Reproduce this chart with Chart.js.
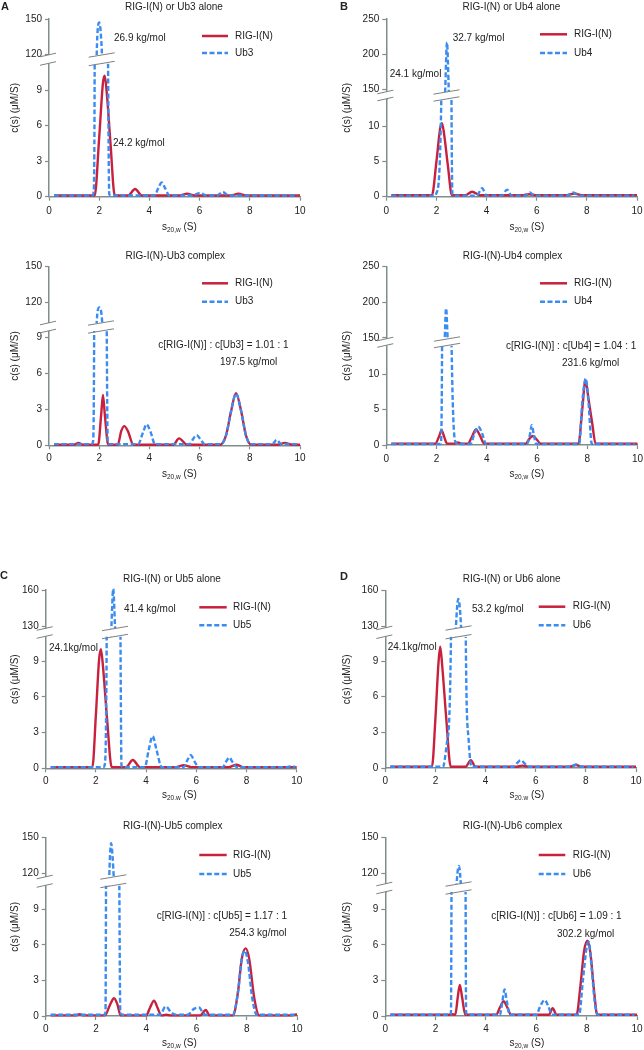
<!DOCTYPE html>
<html><head><meta charset="utf-8">
<script src="https://cdn.jsdelivr.net/npm/chart.js@4.4.1/dist/chart.umd.min.js"></script>
<style>
html,body{margin:0;padding:0;background:#fff;}
#page{position:relative;width:644px;height:1050px;overflow:hidden;background:#fff;}
canvas{position:absolute;}
</style></head><body><div id="page"></div>
<script>
// ---------------- data ----------------
const sTicks = [0, 2, 4, 6, 8, 10];

const A1_rig_s = [0.2, 1.82, 2.0, 2.15, 2.22, 2.3, 2.45, 2.62, 3.15, 3.43, 3.7, 5.2, 5.5, 5.8, 7.25, 7.55, 7.85, 10.0];
const A1_rig_c = [0.1, 0.1, 5.0, 9.6, 10.2, 8.8, 4.5, 0.1, 0.1, 0.65, 0.1, 0.1, 0.25, 0.1, 0.1, 0.25, 0.1, 0.1];
const A1_ub_s = [0.2, 1.72, 1.78, 1.82, 1.9, 2.0, 2.1, 2.2, 2.35, 2.4, 2.5, 4.2, 4.35, 4.49, 4.63, 4.8, 5.7, 6.0, 6.3, 6.7, 6.92, 7.15, 9.9];
const A1_ub_c = [0.1, 0.1, 0.4, 12, 120, 147, 125, 60, 12, 0.2, 0.1, 0.1, 0.7, 1.2, 0.7, 0.1, 0.1, 0.3, 0.1, 0.1, 0.4, 0.1, 0.1];

const A2_rig_s = [0.2, 1.0, 1.17, 1.35, 1.96, 2.08, 2.15, 2.23, 2.36, 2.74, 2.88, 3.0, 3.14, 3.36, 4.95, 5.18, 5.5, 6.82, 7.05, 7.25, 7.45, 7.65, 7.85, 8.05, 9.1, 9.4, 9.7, 10.0];
const A2_rig_c = [0.05, 0.05, 0.2, 0.05, 0.05, 2.6, 4.2, 2.4, 0.05, 0.05, 1.2, 1.6, 1.2, 0.05, 0.05, 0.58, 0.05, 0.05, 0.8, 2.8, 4.35, 2.9, 0.8, 0.05, 0.05, 0.2, 0.05, 0.05];
const A2_ub_s = [0.2, 1.7, 1.76, 1.8, 1.9, 2.0, 2.12, 2.3, 2.34, 2.4, 3.55, 3.75, 3.89, 4.05, 4.22, 5.6, 5.75, 5.88, 6.02, 6.2, 6.85, 7.05, 7.25, 7.45, 7.65, 7.85, 8.05, 8.9, 9.07, 9.25, 9.9];
const A2_ub_c = [0.1, 0.1, 0.4, 10, 103, 115.7, 103, 10, 0.3, 0.1, 0.1, 1.1, 1.75, 1.1, 0.1, 0.1, 0.55, 0.85, 0.55, 0.1, 0.1, 0.8, 2.8, 4.3, 2.9, 0.8, 0.1, 0.1, 0.45, 0.1, 0.1];

const B1_rig_s = [0.2, 1.82, 2.0, 2.15, 2.22, 2.3, 2.45, 2.62, 3.15, 3.42, 3.75, 5.4, 5.7, 6.0, 7.2, 7.5, 7.8, 10.0];
const B1_rig_c = [0.2, 0.2, 5.0, 9.7, 10.4, 9.0, 4.6, 0.2, 0.2, 0.7, 0.2, 0.2, 0.35, 0.2, 0.2, 0.45, 0.2, 0.2];
const B1_ub_s = [0.2, 1.95, 2.0, 2.2, 2.35, 2.42, 2.49, 2.6, 2.64, 2.7, 3.6, 3.82, 4.0, 4.6, 4.82, 5.0, 5.55, 5.72, 5.9, 7.2, 7.45, 7.7, 9.9];
const B1_ub_c = [0.15, 0.15, 0.5, 15, 150, 217, 150, 14, 0.3, 0.15, 0.15, 1.2, 0.15, 0.15, 1.0, 0.15, 0.15, 0.6, 0.15, 0.15, 0.6, 0.15, 0.15];

const B2_rig_s = [0.2, 1.95, 2.1, 2.2, 2.3, 2.42, 2.7, 2.85, 3.0, 3.25, 3.4, 3.57, 3.72, 3.9, 5.55, 5.7, 5.83, 5.98, 6.15, 7.65, 7.8, 7.93, 8.05, 8.2, 8.33, 10.0];
const B2_rig_c = [0.2, 0.2, 1.2, 2.1, 1.2, 0.2, 0.2, 0.35, 0.2, 0.2, 1.1, 2.2, 1.4, 0.2, 0.2, 0.9, 1.27, 0.8, 0.2, 0.2, 5.0, 9.2, 6.5, 3.0, 0.2, 0.2];
const B2_ub_s = [0.2, 2.17, 2.22, 2.32, 2.38, 2.45, 2.6, 2.78, 2.9, 3.35, 3.5, 3.66, 3.82, 3.97, 5.6, 5.72, 5.79, 5.87, 5.97, 7.68, 7.8, 7.94, 8.05, 8.18, 9.9];
const B2_ub_c = [0.15, 0.15, 14, 140, 191.6, 140, 14, 0.3, 0.15, 0.15, 1.5, 2.6, 1.6, 0.15, 0.15, 1.5, 2.8, 1.5, 0.15, 0.15, 6.0, 9.4, 6.0, 0.15, 0.15];

const C1_rig_s = [0.2, 1.86, 2.0, 2.13, 2.2, 2.28, 2.45, 2.63, 3.2, 3.47, 3.75, 5.2, 5.5, 5.8, 7.3, 7.6, 7.85, 10.0];
const C1_rig_c = [0.1, 0.1, 4.5, 9.2, 10.0, 8.6, 4.0, 0.1, 0.1, 0.7, 0.1, 0.1, 0.25, 0.1, 0.1, 0.3, 0.1, 0.1];
const C1_ub_s = [0.2, 2.3, 2.36, 2.43, 2.62, 2.69, 2.76, 2.98, 3.02, 3.1, 3.95, 4.1, 4.26, 4.42, 4.62, 5.5, 5.65, 5.78, 5.92, 6.1, 7.05, 7.2, 7.31, 7.45, 7.6, 9.6, 9.8, 9.95];
const C1_ub_c = [0.1, 0.1, 0.4, 11, 130, 161, 130, 11, 0.2, 0.1, 0.1, 1.5, 2.7, 1.5, 0.1, 0.1, 0.7, 1.1, 0.6, 0.1, 0.1, 0.6, 0.9, 0.5, 0.1, 0.1, 0.18, 0.1];

const C2_rig_s = [0.2, 1.2, 1.35, 1.5, 2.36, 2.55, 2.72, 2.85, 2.98, 4.0, 4.15, 4.31, 4.45, 4.6, 4.8, 5.0, 6.15, 6.37, 6.52, 7.45, 7.65, 7.8, 7.96, 8.1, 8.3, 8.5, 9.8, 10.0];
const C2_rig_c = [0.05, 0.05, 0.15, 0.05, 0.05, 0.9, 1.5, 1.0, 0.05, 0.05, 0.7, 1.3, 0.7, 0.05, 0.1, 0.05, 0.05, 0.5, 0.05, 0.05, 2.0, 4.8, 5.7, 4.8, 1.5, 0.05, 0.05, 0.15];
const C2_ub_s = [0.2, 2.35, 2.38, 2.4, 2.52, 2.6, 2.72, 2.93, 2.97, 3.05, 4.55, 4.77, 5.0, 5.2, 5.65, 5.9, 6.1, 6.25, 6.35, 7.45, 7.65, 7.8, 7.92, 8.05, 8.22, 8.4, 9.9];
const C2_ub_c = [0.1, 0.1, 0.4, 11, 112, 145.3, 112, 11, 0.3, 0.1, 0.1, 0.8, 0.3, 0.1, 0.1, 0.6, 0.72, 0.3, 0.1, 0.1, 2.0, 4.8, 5.5, 4.5, 1.5, 0.1, 0.1];

const D1_rig_s = [0.2, 1.86, 2.0, 2.12, 2.19, 2.27, 2.43, 2.61, 3.2, 3.41, 3.6, 5.2, 5.47, 5.75, 7.35, 7.6, 7.85, 10.0];
const D1_rig_c = [0.1, 0.1, 4.2, 8.8, 10.2, 8.6, 4.2, 0.1, 0.1, 0.65, 0.1, 0.1, 0.2, 0.1, 0.1, 0.25, 0.1, 0.1];
const D1_ub_s = [0.2, 2.3, 2.45, 2.62, 2.82, 2.91, 3.02, 3.21, 3.32, 3.42, 3.5, 5.1, 5.25, 5.4, 5.55, 5.7, 7.4, 7.62, 7.85, 9.9];
const D1_ub_c = [0.1, 0.1, 2.0, 11, 130, 153, 130, 11, 2.5, 0.2, 0.1, 0.1, 0.4, 0.65, 0.4, 0.1, 0.1, 0.3, 0.1, 0.1];

const D2_rig_s = [0.2, 2.55, 2.65, 2.78, 2.88, 2.96, 3.05, 3.18, 4.4, 4.55, 4.7, 4.85, 5.0, 6.5, 6.65, 6.8, 7.6, 7.75, 7.9, 8.03, 8.15, 8.3, 8.42, 10.0];
const D2_rig_c = [0.1, 0.1, 0.15, 0.1, 1.6, 2.62, 1.6, 0.1, 0.1, 0.7, 1.25, 0.7, 0.1, 0.1, 0.65, 0.1, 0.1, 2.5, 5.5, 6.35, 5.3, 2.0, 0.1, 0.1];
const D2_ub_s = [0.2, 2.58, 2.61, 2.63, 2.8, 2.92, 3.03, 3.19, 3.21, 3.3, 4.55, 4.65, 4.74, 4.83, 4.95, 6.0, 6.15, 6.33, 6.48, 6.62, 7.7, 7.85, 8.0, 8.08, 8.2, 8.32, 8.45, 9.9];
const D2_ub_c = [0.1, 0.1, 0.4, 10.4, 100, 126.2, 100, 10.4, 0.3, 0.1, 0.1, 1.2, 2.25, 1.2, 0.1, 0.1, 0.8, 1.35, 0.8, 0.1, 0.1, 3.0, 5.8, 6.27, 4.0, 1.2, 0.1, 0.1];

const A_topTicks = [120, 150], A_botTicks = [0, 3, 6, 9];
const B_topTicks = [150, 200, 250], B_botTicks = [0, 5, 10];
const C1_topTicks = [130, 160], C1_botTicks = [0, 3, 6, 9];
const D1_topTicks = [130, 160], D1_botTicks = [0, 3, 6, 9];
const C2_topTicks = [120, 150], C2_botTicks = [0, 3, 6, 9];
const D2_topTicks = [120, 150], D2_botTicks = [0, 3, 6, 9];

// ---------------- styling / layout ----------------
const RED = '#c8213d', BLUE = '#3a8cf0', AXIS = '#7e8d8d', TXT = '#222222';
const FONT = '"Liberation Sans", Arial, Helvetica, sans-serif';
const DASH = [5, 2.5];

const panels = [
 {key:'A1', box:[0,0,322,240], letter:'A', letterXY:[1,7], title:'RIG-I(N) or Ub3 alone', titleXY:[174,7.3],
  axisX:49, x10:300, top:19, topMax:150, refV:120, refY:54.5, bandTop:55, bandBot:63.5, bottom:196.7, lowV:9, lowY:90,
  topTicks:A_topTicks, botTicks:A_botTicks, breakS:2.1, xLabelY:211.7, xTitleXY:[162,227.5], yTitleX:15,
  legend:[202,228,235,36,53], names:['RIG-I(N)','Ub3'],
  notes:[['26.9 kg/mol',114,38],['24.2 kg/mol',113,143]], rig:[A1_rig_s,A1_rig_c], ub:[A1_ub_s,A1_ub_c]},
 {key:'A2', box:[0,240,322,240], title:'RIG-I(N)-Ub3 complex', titleXY:[175.3,256],
  axisX:49, x10:300, top:266.7, topMax:150, refV:120, refY:302.3, bandTop:323, bandBot:331, bottom:445.3, lowV:9, lowY:337.3,
  topTicks:A_topTicks, botTicks:A_botTicks, breakS:2.07, xLabelY:458.3, xTitleXY:[162,474.3], yTitleX:15,
  legend:[202,228,235,283.3,301.7], names:['RIG-I(N)','Ub3'],
  notes:[['c[RIG-I(N)] : c[Ub3] = 1.01 : 1',158.3,345],['197.5 kg/mol',220,362.7]], rig:[A2_rig_s,A2_rig_c], ub:[A2_ub_s,A2_ub_c]},
 {key:'B1', box:[322,0,322,240], letter:'B', letterXY:[340,7], title:'RIG-I(N) or Ub4 alone', titleXY:[511.5,7.3],
  axisX:386.3, x10:637, top:19, topMax:250, refV:200, refY:54.3, bandTop:92, bandBot:99, bottom:196.7, lowV:10, lowY:126,
  topTicks:B_topTicks, botTicks:B_botTicks, breakS:2.4, xLabelY:211.7, xTitleXY:[509.5,227], yTitleX:347,
  legend:[540,567,574,34.3,53], names:['RIG-I(N)','Ub4'],
  notes:[['32.7 kg/mol',452.7,38],['24.1 kg/mol',389.7,74]], rig:[B1_rig_s,B1_rig_c], ub:[B1_ub_s,B1_ub_c]},
 {key:'B2', box:[322,240,322,240], title:'RIG-I(N)-Ub4 complex', titleXY:[512.5,256],
  axisX:386.3, x10:637.5, top:266.7, topMax:250, refV:200, refY:302.3, bandTop:339, bandBot:345.5, bottom:445, lowV:10, lowY:374.3,
  topTicks:B_topTicks, botTicks:B_botTicks, breakS:2.42, xLabelY:459, xTitleXY:[509.5,474.3], yTitleX:347,
  legend:[540,567,574,283.3,301.7], names:['RIG-I(N)','Ub4'],
  notes:[['c[RIG-I(N)] : c[Ub4] = 1.04 : 1',506,346.7],['231.6 kg/mol',562,363.3]], rig:[B2_rig_s,B2_rig_c], ub:[B2_ub_s,B2_ub_c]},
 {key:'C1', box:[0,540,322,260], letter:'C', letterXY:[0,576], title:'RIG-I(N) or Ub5 alone', titleXY:[172,579.3],
  axisX:45.7, x10:296.7, top:590, topMax:160, refV:130, refY:626, bandTop:628.5, bandBot:636.5, bottom:768.3, lowV:9, lowY:661,
  topTicks:C1_topTicks, botTicks:C1_botTicks, breakS:2.76, xLabelY:781.7, xTitleXY:[162,795], yTitleX:15,
  legend:[199.3,226.7,233,607.3,625.3], names:['RIG-I(N)','Ub5'],
  notes:[['41.4 kg/mol',124,609.3],['24.1kg/mol',49,648.3]], rig:[C1_rig_s,C1_rig_c], ub:[C1_ub_s,C1_ub_c]},
 {key:'C2', box:[0,800,322,250], title:'RIG-I(N)-Ub5 complex', titleXY:[172.8,826.7],
  axisX:45.7, x10:297, top:837.7, topMax:150, refV:120, refY:873.3, bandTop:877, bandBot:885.5, bottom:1016, lowV:9, lowY:909.3,
  topTicks:C2_topTicks, botTicks:C2_botTicks, breakS:2.69, xLabelY:1029.3, xTitleXY:[162,1043.3], yTitleX:15,
  legend:[199.3,226.7,233,855,874], names:['RIG-I(N)','Ub5'],
  notes:[['c[RIG-I(N)] : c[Ub5] = 1.17 : 1',156.7,916],['254.3 kg/mol',229.3,933.3]], rig:[C2_rig_s,C2_rig_c], ub:[C2_ub_s,C2_ub_c]},
 {key:'D1', box:[322,540,322,260], letter:'D', letterXY:[340,576.7], title:'RIG-I(N) or Ub6 alone', titleXY:[511.7,579.3],
  axisX:385.3, x10:636, top:590.7, topMax:160, refV:130, refY:626, bandTop:628, bandBot:636.7, bottom:768, lowV:9, lowY:661,
  topTicks:D1_topTicks, botTicks:D1_botTicks, breakS:2.92, xLabelY:781.7, xTitleXY:[509.5,795], yTitleX:347,
  legend:[538.7,565.3,572.7,606.7,625.3], names:['RIG-I(N)','Ub6'],
  notes:[['53.2 kg/mol',472,609.3],['24.1kg/mol',387.7,647.3]], rig:[D1_rig_s,D1_rig_c], ub:[D1_ub_s,D1_ub_c]},
 {key:'D2', box:[322,800,322,250], title:'RIG-I(N)-Ub6 complex', titleXY:[512.5,826.7],
  axisX:385.3, x10:637, top:837.7, topMax:150, refV:120, refY:873.3, bandTop:884, bandBot:892, bottom:1016, lowV:9, lowY:909.3,
  topTicks:D2_topTicks, botTicks:D2_botTicks, breakS:2.91, xLabelY:1029.3, xTitleXY:[509.5,1043.3], yTitleX:347,
  legend:[538.7,565.3,572.7,855,874], names:['RIG-I(N)','Ub6'],
  notes:[['c[RIG-I(N)] : c[Ub6] = 1.09 : 1',491.3,916.7],['302.2 kg/mol',557,934]], rig:[D2_rig_s,D2_rig_c], ub:[D2_ub_s,D2_ub_c]}
];

Chart.defaults.font.family = FONT;
Chart.defaults.font.size = 10;
Chart.defaults.color = TXT;

function toPts(xs, ys) { return xs.map((x, i) => ({x: x, y: ys[i]})); }

function decoPlugin(p) {
  const ox = p.box[0], oy = p.box[1];
  function seg(ctx, x1, y1, x2, y2) { ctx.beginPath(); ctx.moveTo(x1, y1); ctx.lineTo(x2, y2); ctx.stroke(); }
  return {
    id: 'deco' + p.key,
    beforeDatasetDraw(chart, args) {
      const ys = args.meta.yScale, xs = args.meta.xScale, ctx = chart.ctx;
      const isTop = ys.id === 'yTop';
      const t = isTop ? ys.top - 6 : ys.top;
      const b = isTop ? ys.bottom : ys.bottom + 6;
      ctx.save();
      ctx.beginPath();
      ctx.rect(xs.left - 4, t, xs.right - xs.left + 8, b - t);
      ctx.clip();
    },
    afterDatasetDraw(chart) { chart.ctx.restore(); },
    afterDraw(chart) {
      const ctx = chart.ctx, xs = chart.scales.x;
      const ax = p.axisX - ox;
      ctx.save();
      // axis break gap
      ctx.fillStyle = '#ffffff';
      ctx.fillRect(ax - 2, p.bandTop - oy, p.x10 - p.axisX + 6, p.bandBot - p.bandTop);
      ctx.strokeStyle = '#808080'; ctx.lineWidth = 1;
      const xp = xs.getPixelForValue(p.breakS);
      [p.bandTop - oy, p.bandBot - oy].forEach(y => {
        seg(ctx, ax - 9, y + 1.8, ax + 7, y - 1.8);
        seg(ctx, xp - 13, y + 2.2, xp + 13, y - 2.2);
      });
      // texts
      ctx.fillStyle = TXT; ctx.textBaseline = 'middle';
      ctx.font = '10px ' + FONT; ctx.textAlign = 'center';
      ctx.fillText(p.title, p.titleXY[0] - ox, p.titleXY[1] - oy);
      if (p.letter) {
        ctx.font = 'bold 11px ' + FONT; ctx.textAlign = 'left';
        ctx.fillText(p.letter, p.letterXY[0] - ox, p.letterXY[1] - oy);
      }
      ctx.font = '10px ' + FONT; ctx.textAlign = 'left';
      p.notes.forEach(n => ctx.fillText(n[0], n[1] - ox, n[2] - oy));
      // legend
      const L = p.legend;
      ctx.lineWidth = 2.5; ctx.lineCap = 'butt';
      ctx.strokeStyle = RED; ctx.setLineDash([]);
      seg(ctx, L[0] - ox, L[3] - oy, L[1] - ox, L[3] - oy);
      ctx.strokeStyle = BLUE; ctx.setLineDash(DASH);
      seg(ctx, L[0] - ox, L[4] - oy, L[1] - ox, L[4] - oy);
      ctx.setLineDash([]);
      ctx.fillText(p.names[0], L[2] - ox, L[3] - oy);
      ctx.fillText(p.names[1], L[2] - ox, L[4] - oy);
      // x title with subscript
      let tx = p.xTitleXY[0] - ox; const ty = p.xTitleXY[1] - oy;
      ctx.font = '10px ' + FONT; ctx.fillText('s', tx, ty); tx += ctx.measureText('s').width;
      ctx.font = '6.5px ' + FONT; ctx.fillText('20,w', tx, ty + 3); tx += ctx.measureText('20,w').width;
      ctx.font = '10px ' + FONT; ctx.fillText(' (S)', tx, ty);
      // y title
      ctx.translate(p.yTitleX - ox, (p.top + p.bottom) / 2 - oy);
      ctx.rotate(-Math.PI / 2);
      ctx.textAlign = 'center';
      ctx.fillText('c(s) (\u03bcM/S)', 0, 0);
      ctx.restore();
    }
  };
}

const page = document.getElementById('page');
panels.forEach(p => {
  const cv = document.createElement('canvas');
  cv.width = p.box[2]; cv.height = p.box[3];
  cv.style.left = p.box[0] + 'px'; cv.style.top = p.box[1] + 'px';
  cv.style.width = p.box[2] + 'px'; cv.style.height = p.box[3] + 'px';
  page.appendChild(cv);

  const pxTop = (p.refY - p.top) / (p.topMax - p.refV);
  const topMin = p.topMax - (p.bandBot - p.top) / pxTop;
  const pxBot = (p.bottom - p.lowY) / p.lowV;
  const botMax = (p.bottom - p.bandBot) / pxBot;
  const wTop = p.bandBot - p.top, wBot = p.bottom - p.bandBot;
  const yW = p.axisX - p.box[0];
  const xH = p.box[1] + p.box[3] - p.bottom;
  const xPad = p.xLabelY - p.bottom - 4 - 6;

  const mk = (label, arr, color, dash, axis) => ({
    label: label, data: toPts(arr[0], arr[1]), yAxisID: axis, xAxisID: 'x',
    borderColor: color, backgroundColor: color, borderWidth: 2.4, borderDash: dash,
    pointRadius: 0, pointHoverRadius: 0, fill: false, clip: false,
    cubicInterpolationMode: 'monotone', capBezierPoints: false, borderJoinStyle: 'round'
  });

  const yCommon = (ticksArr) => ({
    type: 'linear', position: 'left', stack: 'brk', offset: false,
    afterBuildTicks: s => { s.ticks = ticksArr.map(v => ({value: v})); },
    afterFit: s => { s.width = yW; },
    grid: {display: true, drawOnChartArea: false, drawTicks: true, tickLength: 4, color: AXIS, tickColor: AXIS, tickWidth: 1.2},
    border: {display: true, color: AXIS, width: 1.5},
    ticks: {color: TXT, font: {size: 10, family: FONT}, padding: 3, autoSkip: false}
  });

  new Chart(cv, {
    type: 'line',
    data: {datasets: [
      mk(p.names[1], p.ub, BLUE, DASH, 'yTop'),
      mk(p.names[1], p.ub, BLUE, DASH, 'yBot'),
      mk(p.names[0], p.rig, RED, [], 'yTop'),
      mk(p.names[0], p.rig, RED, [], 'yBot')
    ]},
    options: {
      responsive: false, animation: false, events: [],
      layout: {padding: {left: 0, top: p.top - p.box[1], right: p.box[0] + p.box[2] - p.x10, bottom: 0}},
      plugins: {legend: {display: false}, title: {display: false}, tooltip: {enabled: false}},
      scales: {
        x: {
          type: 'linear', position: 'bottom', min: 0, max: 10,
          afterBuildTicks: s => { s.ticks = sTicks.map(v => ({value: v})); },
          afterFit: s => { s.height = xH; s.paddingLeft = 0; s.paddingRight = 0; },
          grid: {display: true, drawOnChartArea: false, drawTicks: true, tickLength: 4, color: AXIS, tickColor: AXIS, tickWidth: 1.2},
          border: {display: true, color: AXIS, width: 1.5},
          ticks: {color: TXT, font: {size: 10, family: FONT}, padding: xPad, autoSkip: false, maxRotation: 0}
        },
        yBot: Object.assign(yCommon(p.botTicks), {min: 0, max: botMax, stackWeight: wBot, weight: 1}),
        yTop: Object.assign(yCommon(p.topTicks), {min: topMin, max: p.topMax, stackWeight: wTop, weight: 2})
      }
    },
    plugins: [decoPlugin(p)]
  });
});
</script>
</body></html>
